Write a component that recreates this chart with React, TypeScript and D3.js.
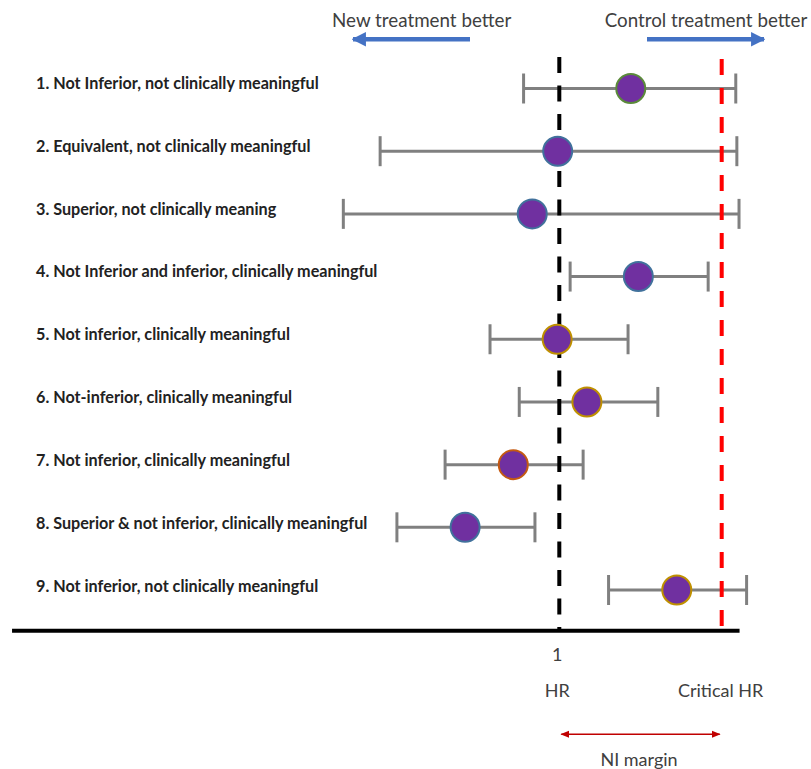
import React from 'react';
import * as d3 from 'd3';

// ---- data ----
const labels = [
  '1. Not Inferior, not clinically meaningful',
  '2. Equivalent, not clinically meaningful',
  '3. Superior, not clinically meaning',
  '4. Not Inferior and inferior, clinically meaningful',
  '5. Not inferior, clinically meaningful',
  '6. Not-inferior, clinically meaningful',
  '7. Not inferior, clinically meaningful',
  '8. Superior & not inferior, clinically meaningful',
  '9. Not inferior, not clinically meaningful',
];
const estimates = [1.132, 0.997, 0.95, 1.146, 0.996, 1.051, 0.915, 0.826, 1.217];
const lowers = [0.934, 0.669, 0.601, 1.02, 0.872, 0.926, 0.789, 0.7, 1.091];
const uppers = [1.326, 1.328, 1.332, 1.275, 1.127, 1.182, 1.044, 0.955, 1.346];
const outlineGroups = ['green', 'blue', 'blue', 'blue', 'gold', 'gold', 'orange', 'blue', 'gold'];
const tickValues = [1];
const referenceHR = 1;
const criticalHR = 1.3;
const axisExtent = [-0.011, 1.333];

// ---- styles ----
const outlineColor: Record<string, string> = {
  green: '#5B8A3A',
  blue: '#41719C',
  gold: '#BF9000',
  orange: '#C55A11',
};
const W = 811;
const H = 769;
const FONT = 'Lato, "Open Sans", sans-serif';

export default function App() {
  const x = d3.scaleLinear().domain([0, 1.4]).range([18, 775.83]);
  const y = d3.scalePoint<string>().domain(labels).range([88.5, 590]);
  const yLabel = d3.scalePoint<string>().domain(labels).range([84.4, 588.2]);
  const axisY = 630.7;
  const capH = 15;
  const r = 14.5;

  const blue = '#4472C4';
  const darkRed = '#C00000';

  return (
    <svg
      width={W}
      height={H}
      style={{ position: 'absolute', left: 0, top: 0, background: '#fff' }}
    >
      <defs>
        <marker id="blueHead" viewBox="0 0 10 10" refX="9" refY="5" markerWidth="3.2" markerHeight="3.2" orient="auto-start-reverse" markerUnits="strokeWidth">
          <path d="M0,0 L10,5 L0,10 z" fill={blue} />
        </marker>
        <marker id="redHead" viewBox="0 0 10 10" refX="9" refY="5" markerWidth="6" markerHeight="6" orient="auto-start-reverse" markerUnits="strokeWidth">
          <path d="M0,1 L10,5 L0,9 z" fill={darkRed} />
        </marker>
      </defs>

      {/* top direction arrows */}
      <text x={421.7} y={27} textAnchor="middle" fontFamily={FONT} fontSize={18.8} fill="#404040">
        New treatment better
      </text>
      <line x1={470} x2={353} y1={39.3} y2={39.3} stroke={blue} strokeWidth={4.5} markerEnd="url(#blueHead)" />
      <text x={706} y={27} textAnchor="middle" fontFamily={FONT} fontSize={18.8} fill="#404040">
        Control treatment better
      </text>
      <line x1={647} x2={764} y1={39.3} y2={39.3} stroke={blue} strokeWidth={4.5} markerEnd="url(#blueHead)" />

      {/* row labels */}
      {labels.map((l) => (
        <text
          key={l}
          x={36}
          y={yLabel(l) as number}
          dominantBaseline="middle"
          fontFamily={FONT}
          fontWeight={700}
          fontSize={16.2}
          fill="#222"
        >
          {l}
        </text>
      ))}

      {/* whiskers */}
      {labels.map((l, i) => {
        const cy = y(l) as number;
        return (
          <g key={'w' + i} stroke="#808080" strokeWidth={3}>
            <line x1={x(lowers[i])} x2={x(uppers[i])} y1={cy} y2={cy} />
            <line x1={x(lowers[i])} x2={x(lowers[i])} y1={cy - capH} y2={cy + capH} />
            <line x1={x(uppers[i])} x2={x(uppers[i])} y1={cy - capH} y2={cy + capH} />
          </g>
        );
      })}

      {/* reference lines */}
      <line x1={x(referenceHR)} x2={x(referenceHR)} y1={57} y2={axisY} stroke="#000" strokeWidth={4} strokeDasharray="16 12.5" />
      <line x1={x(criticalHR)} x2={x(criticalHR)} y1={59} y2={636} stroke="#FF0000" strokeWidth={4} strokeDasharray="16 13" />

      {/* points */}
      {labels.map((l, i) => (
        <circle
          key={'c' + i}
          cx={x(estimates[i])}
          cy={y(l) as number}
          r={r}
          fill="#7030A0"
          stroke={outlineColor[outlineGroups[i]]}
          strokeWidth={2}
        />
      ))}

      {/* axis */}
      <line x1={x(axisExtent[0])} x2={x(axisExtent[1])} y1={axisY} y2={axisY} stroke="#000" strokeWidth={4} />
      {tickValues.map((t) => (
        <text key={t} x={x(t) - 2} y={661} textAnchor="middle" fontFamily={FONT} fontSize={18} fill="#404040">
          {t}
        </text>
      ))}
      <text x={x(referenceHR) - 2} y={697} textAnchor="middle" fontFamily={FONT} fontSize={18} fill="#404040">
        HR
      </text>
      <text x={x(criticalHR) - 1} y={697} textAnchor="middle" fontFamily={FONT} fontSize={18} fill="#404040">
        Critical HR
      </text>

      {/* NI margin */}
      <line x1={x(referenceHR) + 2} x2={x(criticalHR) - 2} y1={734.3} y2={734.3} stroke={darkRed} strokeWidth={1.5} markerStart="url(#redHead)" markerEnd="url(#redHead)" />
      <text x={639} y={766} textAnchor="middle" fontFamily={FONT} fontSize={18} fill="#404040">
        NI margin
      </text>
    </svg>
  );
}
